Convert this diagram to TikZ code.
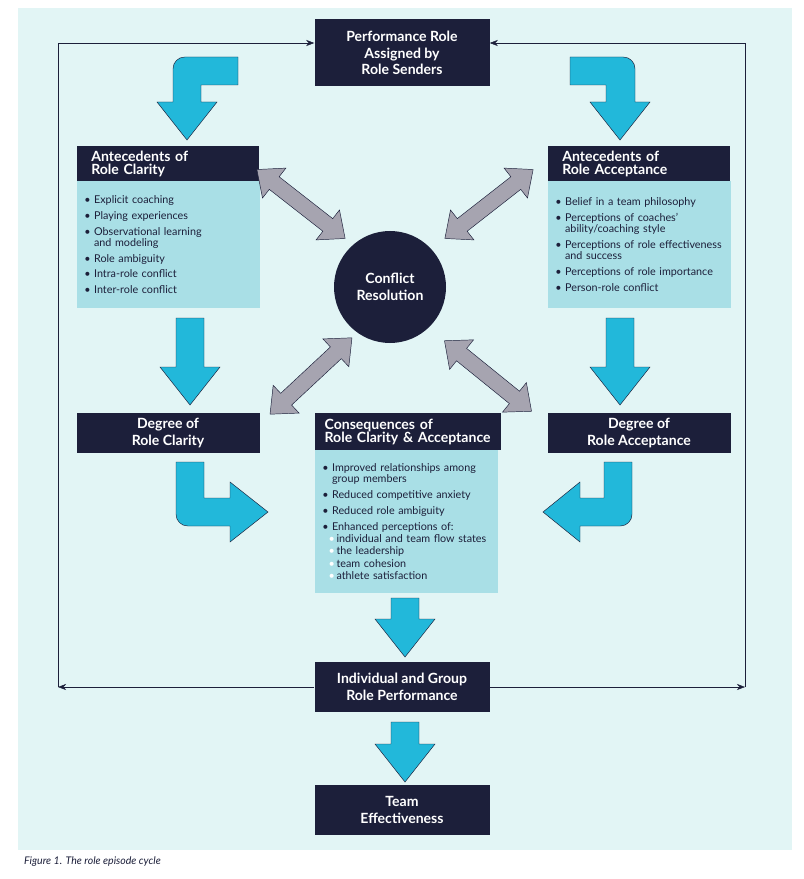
\documentclass[tikz,border=0pt]{standalone}
\usepackage{fontspec}
\setmainfont{Lato}
\usetikzlibrary{arrows.meta}
\definecolor{navy}{HTML}{1C1F3A}
\definecolor{paper}{HTML}{E2F5F5}
\definecolor{panel}{HTML}{A9DFE6}
\definecolor{aqua}{HTML}{22B8DA}
\definecolor{stone}{HTML}{A6A4B0}
\tikzset{
    head/.style = {rectangle, fill=navy, text=white, align=center, font=\bfseries\large, inner sep=2pt},
    headl/.style = {rectangle, fill=navy, text=white, align=left, font=\bfseries\large, anchor=north west, inner xsep=12pt, inner ysep=2pt, text width=4.6cm},
    body/.style = {rectangle, fill=panel, text=navy, align=left, font=\fontsize{9.2}{13.5}\selectfont, anchor=north west, inner xsep=6pt, inner ysep=5pt, text width=5.05cm},
    fatarrow/.style = {fill=aqua, draw=navy, thin},
    twoway/.style = {fill=stone, draw=navy, thin},
    loopline/.style = {draw=navy, thin, -{Stealth[length=7pt]}}
}
\newcommand{\fatdown}[3]{% x, top y, tip y
  \path[fatarrow] (#1-14,#2) -- (#1+14,#2) -- (#1+14,#3-38) -- (#1+30,#3-38) -- (#1,#3)
    -- (#1-30,#3-38) -- (#1-14,#3-38) -- cycle;}
\newcommand{\twoway}[3]{% centre, angle
  \begin{scope}[shift={(#1,#2)}, rotate=#3]
  \path[twoway] (-56,0) -- (-34,19) -- (-34,8) -- (34,8) -- (34,19) -- (56,0)
    -- (34,-19) -- (34,-8) -- (-34,-8) -- (-34,-19) -- cycle;
  \end{scope}}
\begin{document}
\begin{tikzpicture}[x=0.03cm, y=-0.03cm]
\useasboundingbox (0,0) rectangle (803,879);
\fill[paper] (18,8) rectangle (792,850);
%
\node[head, minimum width=175*0.03cm, minimum height=67*0.03cm] at (402,53) (senders) {Performance Role\\Assigned by\\Role Senders};
\node[headl, minimum height=35*0.03cm] at (77,146) (clarityhead) {Antecedents of\\[-3pt]Role Clarity};
\node[body, minimum height=127*0.03cm] at (77,181) (claritybody) {%
  \textbullet\ Explicit coaching\\
  \textbullet\ Playing experiences\\
  \textbullet\ Observational learning\\[-4pt]
  \hphantom{\textbullet\ }and modeling\\
  \textbullet\ Role ambiguity\\
  \textbullet\ Intra-role conflict\\
  \textbullet\ Inter-role conflict};
\node[headl, minimum height=35*0.03cm] at (548,146) (accepthead) {Antecedents of\\[-3pt]Role Acceptance};
\node[body, minimum height=127*0.03cm] at (548,181) (acceptbody) {%
  \textbullet\ Belief in a team philosophy\\
  \textbullet\ Perceptions of coaches'\\[-4pt]
  \hphantom{\textbullet\ }ability/coaching style\\
  \textbullet\ Perceptions of role effectiveness\\[-4pt]
  \hphantom{\textbullet\ }and success\\
  \textbullet\ Perceptions of role importance\\
  \textbullet\ Person-role conflict};
\node[circle, fill=navy, text=white, align=center, font=\bfseries\large, minimum size=112*0.03cm] at (390,287) (conflict) {Conflict\\Resolution};
\node[head, minimum width=183*0.03cm, minimum height=40*0.03cm] at (168,433) (degclarity) {Degree of\\Role Clarity};
\node[head, minimum width=183*0.03cm, minimum height=40*0.03cm] at (639,433) (degaccept) {Degree of\\Role Acceptance};
\node[headl, minimum height=37*0.03cm, inner xsep=8pt, text width=5.0cm] at (315,413) (conshead) {Consequences of\\[-3pt]Role Clarity \& Acceptance};
\node[body, minimum height=143*0.03cm] at (315,450) (consbody) {%
  \textbullet\ Improved relationships among\\[-4pt]
  \hphantom{\textbullet\ }group members\\
  \textbullet\ Reduced competitive anxiety\\
  \textbullet\ Reduced role ambiguity\\
  \textbullet\ Enhanced perceptions of:\\[-3pt]
  \hphantom{\textbullet}\textcolor{white}{\textbullet}\,individual and team flow states\\[-3pt]
  \hphantom{\textbullet}\textcolor{white}{\textbullet}\,the leadership\\[-3pt]
  \hphantom{\textbullet}\textcolor{white}{\textbullet}\,team cohesion\\[-3pt]
  \hphantom{\textbullet}\textcolor{white}{\textbullet}\,athlete satisfaction};
\node[head, minimum width=175*0.03cm, minimum height=50*0.03cm] at (402,687) (performance) {Individual and Group\\Role Performance};
\node[head, minimum width=175*0.03cm, minimum height=50*0.03cm] at (402,810) (effect) {Team\\Effectiveness};
\node[anchor=west, font=\itshape\small, text=navy] at (20,862) (caption) {Figure 1. The role episode cycle};
%
% feedback loop
\coordinate (loopbl) at (58,687);
\coordinate (looptl) at (58,43);
\coordinate (loopbr) at (745,687);
\coordinate (looptr) at (745,43);
\draw[loopline] (performance.west) -- (loopbl);
\draw[loopline] (loopbl) -- (looptl) -- (looptl -| senders.west);
\draw[loopline] (performance.east) -- (loopbr);
\draw[loopline] (loopbr) -- (looptr) -- (looptr -| senders.east);
%
% cyan arrows
\path[fatarrow] (238,57) [rounded corners=10pt] -- (173,57) [sharp corners] -- (173,102) -- (157,102)
  -- (187,140) -- (217,102) -- (201,102) -- (201,85) -- (238,85) -- cycle;
\path[fatarrow] (570,57) [rounded corners=10pt] -- (635,57) [sharp corners] -- (635,102) -- (650,102)
  -- (620,140) -- (590,102) -- (606,102) -- (606,85) -- (570,85) -- cycle;
\fatdown{190}{318}{405}
\fatdown{620}{318}{405}
\path[fatarrow] (176,462) -- (204,462) -- (204,498) -- (230,498) -- (230,482) -- (268,512)
  -- (230,542) -- (230,526) [rounded corners=10pt] -- (176,526) [sharp corners] -- cycle;
\path[fatarrow] (632,462) -- (604,462) -- (604,498) -- (580,498) -- (580,482) -- (543,512)
  -- (580,542) -- (580,526) [rounded corners=10pt] -- (632,526) [sharp corners] -- cycle;
\fatdown{405}{598}{657}
\fatdown{405}{722}{782}
%
% grey two-way arrows
\twoway{301}{204}{-38}
\twoway{489}{204}{38}
\twoway{311}{376}{43}
\twoway{488}{376}{-39}
\end{tikzpicture}
\end{document}
